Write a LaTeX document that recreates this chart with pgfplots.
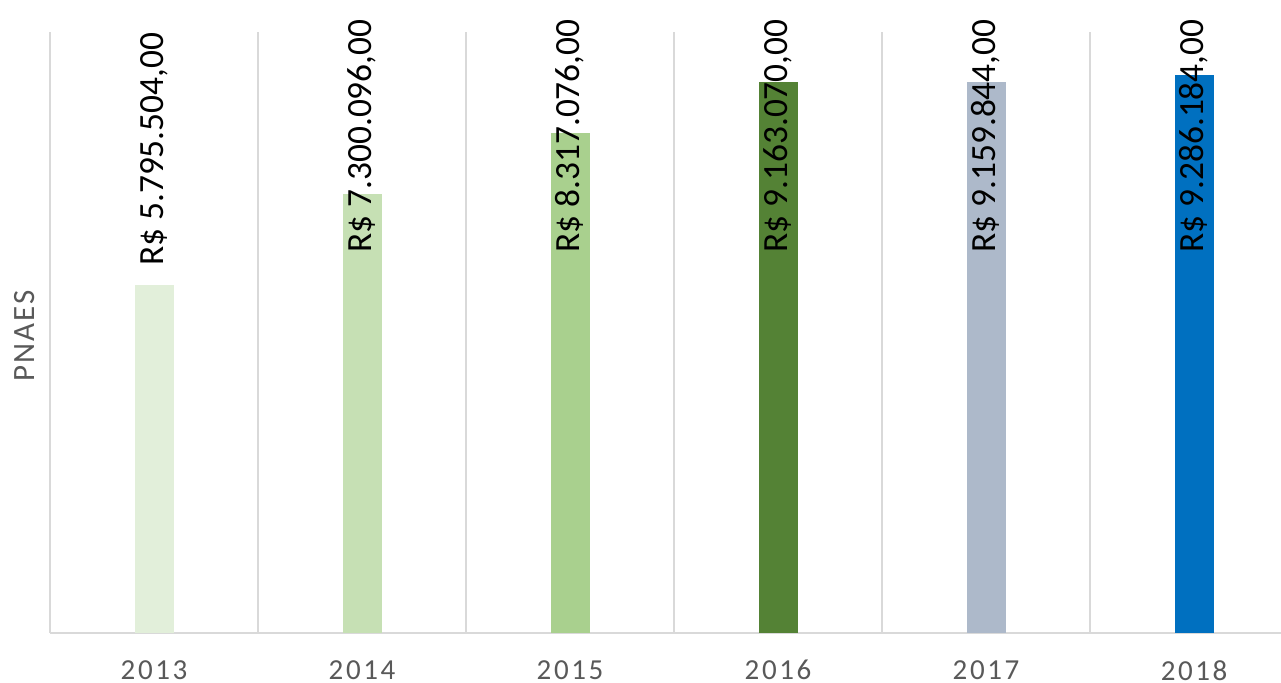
\documentclass[border=0pt]{standalone}
\usepackage{fontspec}
\setmainfont{Carlito}
\newfontfamily\tickfont[LetterSpace=9]{Carlito}
\newfontfamily\labfont[LetterSpace=7]{Carlito}
\usepackage{pgfplots}
\pgfplotsset{compat=1.18}
\definecolor{cA}{HTML}{E2EFDA}
\definecolor{cB}{HTML}{C6E0B4}
\definecolor{cC}{HTML}{A9D08E}
\definecolor{cD}{HTML}{548235}
\definecolor{cE}{HTML}{ADB9CA}
\definecolor{cF}{HTML}{0070C0}
\definecolor{gridgray}{HTML}{D9D9D9}
\definecolor{axisgray}{HTML}{595959}
\begin{document}
\begin{tikzpicture}
\useasboundingbox (0,0) rectangle (640.5pt,341.5pt);
\begin{axis}[
  at={(25pt,25pt)}, anchor=south west,
  scale only axis, width=615.5pt, height=300.5pt,
  xmin=-0.5, xmax=5.418, ymin=0, ymax=1e7,
  axis x line*=bottom, axis y line=none,
  x axis line style={draw=gridgray, line width=0.75pt, -},
  xtick={0,1,2,3,4,5},
  xticklabels={2013,2014,2015,2016,2017,2018},
  minor xtick={-0.5,0.5,1.5,2.5,3.5,4.5},
  xminorgrids,
  minor grid style={draw=gridgray, line width=0.75pt},
  major tick length=0pt, minor tick length=0pt,
  tick style={draw=none},
  ytick=\empty,
  xticklabel style={font=\tickfont\fontsize{14.5}{16}\selectfont, text=axisgray, inner sep=0pt, yshift=-13.5pt},
  clip=false,
  ybar, bar width=19.5pt,
]
\addplot[ybar, bar shift=0pt, fill=cA, draw=none] coordinates {(0,5795504)};
\addplot[ybar, bar shift=0pt, fill=cB, draw=none] coordinates {(1,7300096)};
\addplot[ybar, bar shift=0pt, fill=cC, draw=none] coordinates {(2,8317076)};
\addplot[ybar, bar shift=0pt, fill=cD, draw=none] coordinates {(3,9163070)};
\addplot[ybar, bar shift=0pt, fill=cE, draw=none] coordinates {(4,9159844)};
\addplot[ybar, bar shift=0pt, fill=cF, draw=none] coordinates {(5,9286184)};
\begin{scope}[every node/.style={rotate=90, anchor=west, inner sep=0pt, font=\fontsize{17.7}{20}\selectfont, text=black}]
\node at (axis cs:0,6.1e6) {R\$ 5.795.504,00};
\node at (axis cs:1,6.32e6) {R\$ 7.300.096,00};
\node at (axis cs:2,6.32e6) {R\$ 8.317.076,00};
\node at (axis cs:3,6.32e6) {R\$ 9.163.070,00};
\node at (axis cs:4,6.32e6) {R\$ 9.159.844,00};
\node at (axis cs:5,6.32e6) {R\$ 9.286.184,00};
\end{scope}
\path (rel axis cs:0,0.494) ++(-12.5pt,0pt) node[rotate=90, text=axisgray, font=\labfont\fontsize{15.5}{17}\selectfont, inner sep=0pt] {PNAES};
\end{axis}
\end{tikzpicture}
\end{document}
